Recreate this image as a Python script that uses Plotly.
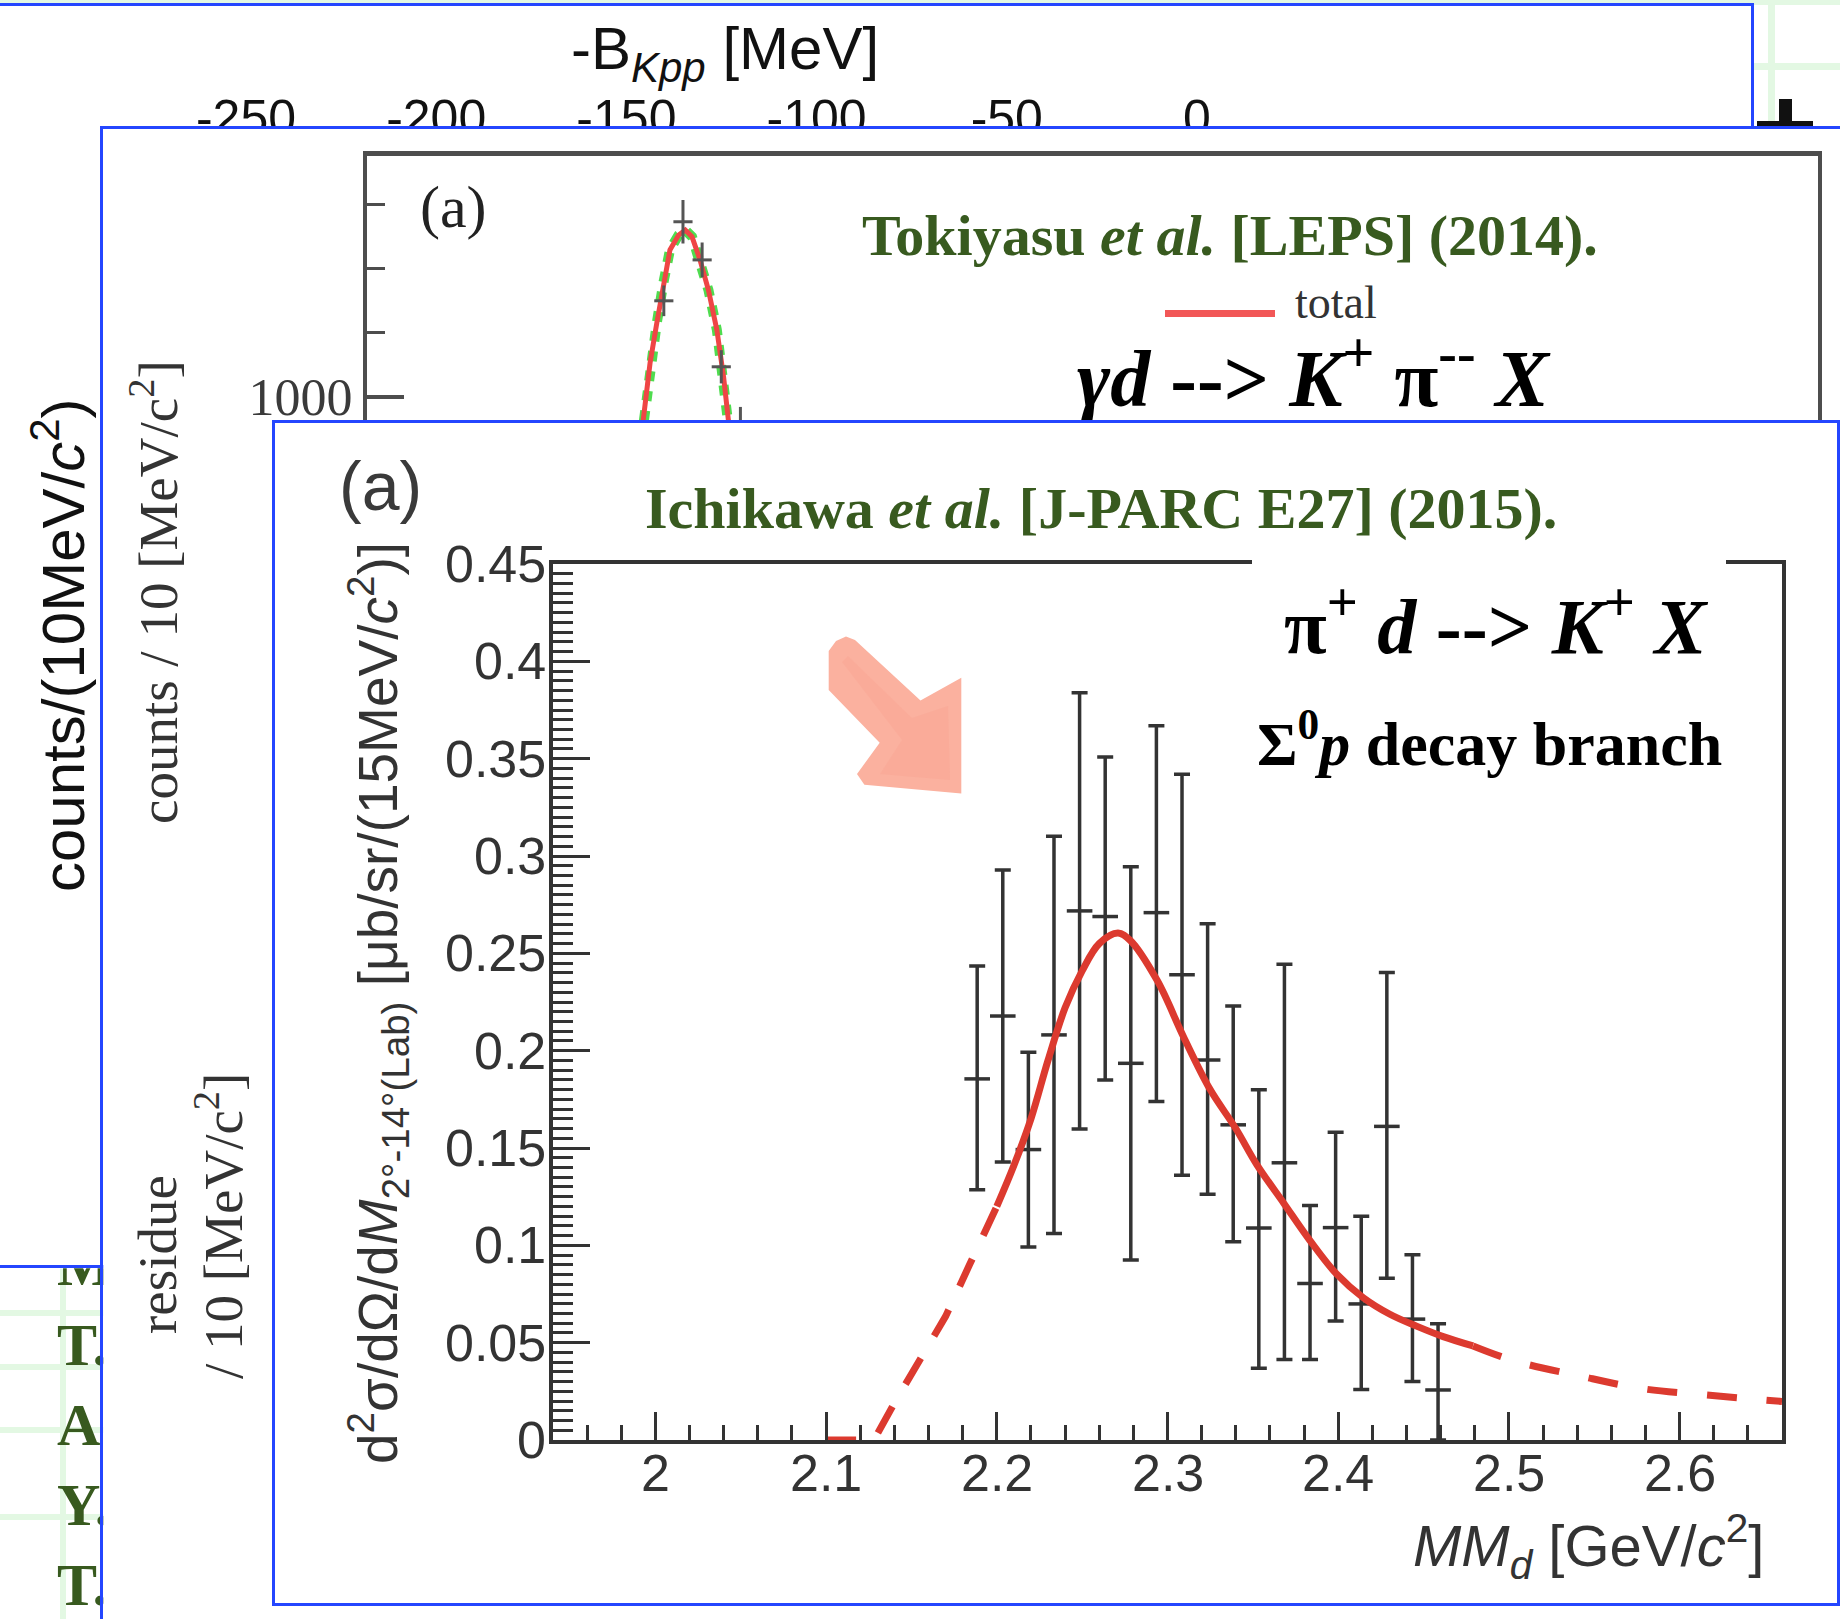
import plotly.graph_objects as go

W, H = 1840, 1619
BLUE = "#2446ff"
GREEN = "#385a1f"
INK = "#333333"
RED = "#dc3a2f"
GRIDGREEN = "#e3f8e3"

# ---------------- front chart: Ichikawa et al. [J-PARC E27] ----------------
mm_centers = [2.1885, 2.2035, 2.2185, 2.2335, 2.2485, 2.2635, 2.2785, 2.2935, 2.3085,
              2.3235, 2.3385, 2.3535, 2.3685, 2.3835, 2.3985, 2.4135, 2.4285, 2.4435, 2.4585]
xsec = [0.1855, 0.2178, 0.1492, 0.2081, 0.2718, 0.2689, 0.1935, 0.2709, 0.2390,
        0.1952, 0.1619, 0.1089, 0.1424, 0.0804, 0.1091, 0.0699, 0.1611, 0.0621, 0.0257]
xsec_err_up = [0.058, 0.075, 0.050, 0.102, 0.112, 0.082, 0.101, 0.096, 0.103,
               0.070, 0.061, 0.071, 0.102, 0.040, 0.049, 0.045, 0.079, 0.033, 0.034]
xsec_err_dn = [0.057, 0.075, 0.050, 0.102, 0.112, 0.084, 0.101, 0.097, 0.103,
               0.069, 0.060, 0.072, 0.101, 0.039, 0.048, 0.044, 0.078, 0.032, 0.0257]
mm_bin_half = 0.0075

fit_low_x = [2.100, 2.128, 2.140, 2.152, 2.170, 2.184, 2.200]
fit_low_y = [0.0, 0.0, 0.019, 0.037, 0.0635, 0.090, 0.120]
fit_mid_x = [2.200, 2.210, 2.220, 2.230, 2.240, 2.250, 2.260, 2.271, 2.278, 2.294, 2.3095,
             2.325, 2.340, 2.3525, 2.368, 2.3836, 2.399, 2.4147, 2.4303, 2.4459, 2.4615, 2.479]
fit_mid_y = [0.120, 0.141, 0.165, 0.195, 0.222, 0.241, 0.255, 0.2604, 0.2568, 0.236, 0.2069,
             0.180, 0.160, 0.1412, 0.1218, 0.1023, 0.0853, 0.0731, 0.0646, 0.0585, 0.0531, 0.0483]
fit_high_x = [2.479, 2.503, 2.541, 2.578, 2.616, 2.660]
fit_high_y = [0.0483, 0.0407, 0.0330, 0.0264, 0.0231, 0.0198]

mm_tick_vals = [2.0, 2.1, 2.2, 2.3, 2.4, 2.5, 2.6]
mm_tick_text = ["2", "2.1", "2.2", "2.3", "2.4", "2.5", "2.6"]
xsec_tick_vals = [0, 0.05, 0.1, 0.15, 0.2, 0.25, 0.3, 0.35, 0.4, 0.45]
xsec_tick_text = ["0", "0.05", "0.1", "0.15", "0.2", "0.25", "0.3", "0.35", "0.4", "0.45"]

# ---------------- middle chart: Tokiyasu et al. [LEPS] ----------------
leps_mm = [2.155, 2.165, 2.175, 2.185, 2.195]
leps_counts = [1375, 1684, 1535, 1117, 870]
leps_err = [60, 85, 68, 65, 90]
leps_fit_x = [2.1405, 2.1443, 2.1478, 2.1513, 2.1547, 2.1582, 2.1627, 2.1662,
              2.1697, 2.1739, 2.1783, 2.1827, 2.1862, 2.1888, 2.1922]
leps_fit_y = [674, 909, 1131, 1287, 1443, 1574, 1632, 1652,
              1626, 1535, 1417, 1261, 1078, 909, 674]
leps_tick_vals = [1000]
leps_tick_text = ["1000"]

# ---------------- back chart: binding-energy axis ----------------
bkpp_ticks = [-250, -200, -150, -100, -50, 0]
bkpp_labels = ["-250", "-200", "-150", "-100", "-50", "0"]

# ---------------- slide table initials (bottom-left) ----------------
ref_initials = ["M", "T.", "A", "Y.", "T."]
ref_rows_px = [1270, 1350, 1430, 1510, 1590]


# ---------------- geometry helpers (page pixels -> paper) ----------------
def dx(a, b):
    return [a / W, b / W]


def dy(top, bottom):
    return [1 - bottom / H, 1 - top / H]


def hidden(domain, rng, **kw):
    d = dict(domain=domain, range=rng, showgrid=False, zeroline=False, automargin=False,
             showticklabels=False, ticks="", fixedrange=True, showline=False)
    d.update(kw)
    return d


# back panel x axis: MeV, -250 at px 246 ... 0 at px 1197
BK_ZERO_PX, BK_PX_PER_MEV = 1197.0, 3.804
bk_range = [(0 - BK_ZERO_PX) / BK_PX_PER_MEV, (1751 - BK_ZERO_PX) / BK_PX_PER_MEV]

# LEPS axes mapping
LEPS_X0_PX, LEPS_PX_PER_GEV = 367.0, 1915.0
LEPS_Y1000_PX, LEPS_PX_PER_COUNT = 396.7, 0.2557


def leps_x(px):
    return 2.0 + (px - LEPS_X0_PX) / LEPS_PX_PER_GEV


def leps_y(py):
    return 1000 + (LEPS_Y1000_PX - py) / LEPS_PX_PER_COUNT


fig = go.Figure()

# ---- subplot 1 : back panel ----
fig.add_trace(go.Scatter(
    x=bkpp_ticks, y=[122] * len(bkpp_ticks), text=bkpp_labels, mode="text",
    textposition="middle center", cliponaxis=True,
    textfont=dict(family="Liberation Sans", size=50, color="#111111"),
    xaxis="x", yaxis="y", showlegend=False, hoverinfo="skip"))

# ---- subplot 2 : bottom-left slide table ----
fig.add_trace(go.Scatter(
    x=[57] * len(ref_initials), y=ref_rows_px, text=["<b>%s</b>" % t for t in ref_initials],
    mode="text", textposition="middle right", cliponaxis=True,
    textfont=dict(family="Liberation Serif", size=60, color=GREEN),
    xaxis="x2", yaxis="y2", showlegend=False, hoverinfo="skip"))

# ---- subplot 3 : middle panel (frame only) ----
fig.add_trace(go.Scatter(x=[], y=[], xaxis="x3", yaxis="y3", showlegend=False))

# ---- subplot 4 : LEPS spectrum ----
fig.add_trace(go.Scatter(
    x=leps_fit_x, y=leps_fit_y, mode="lines",
    line=dict(color="#4fdc4f", width=10, dash="dot"),
    xaxis="x4", yaxis="y4", showlegend=False, hoverinfo="skip"))
fig.add_trace(go.Scatter(
    x=leps_fit_x, y=leps_fit_y, mode="lines",
    line=dict(color="#ef4545", width=5),
    xaxis="x4", yaxis="y4", showlegend=False, hoverinfo="skip"))
fig.add_trace(go.Scatter(
    x=leps_mm, y=leps_counts, mode="markers", marker=dict(size=1, color="#555555"),
    error_y=dict(type="data", array=leps_err, color="#555555", thickness=3, width=0),
    error_x=dict(type="constant", value=0.005, color="#555555", thickness=3, width=0),
    xaxis="x4", yaxis="y4", showlegend=False, hoverinfo="skip"))
fig.add_trace(go.Scatter(
    x=[leps_x(1313)], y=[leps_y(386)], mode="text", textposition="middle center",
    text=["<b><i>γd</i> --> <i>K</i><sup>+</sup> π<sup>--</sup> <i>X</i></b>"],
    textfont=dict(family="Liberation Serif", size=80, color="#000000"), cliponaxis=True,
    xaxis="x4", yaxis="y4", showlegend=False, hoverinfo="skip"))

# ---- subplot 5 : front panel frame ----
fig.add_trace(go.Scatter(x=[], y=[], xaxis="x5", yaxis="y5", showlegend=False))

# ---- subplot 6 : main chart ----
fig.add_trace(go.Scatter(
    x=mm_centers, y=xsec, mode="markers", marker=dict(size=1, color=INK),
    error_y=dict(type="data", symmetric=False, array=xsec_err_up, arrayminus=xsec_err_dn,
                 color=INK, thickness=3.5, width=8),
    error_x=dict(type="constant", value=mm_bin_half, color=INK, thickness=3.5, width=0),
    xaxis="x6", yaxis="y6", showlegend=False, hoverinfo="skip"))
for fx, fy, dash, shape in [(fit_low_x, fit_low_y, "30px,26px", "linear"),
                            (fit_mid_x, fit_mid_y, "solid", "spline"),
                            (fit_high_x, fit_high_y, "30px,30px", "spline")]:
    fig.add_trace(go.Scatter(
        x=fx, y=fy, mode="lines", line=dict(color=RED, width=7, dash=dash, shape=shape),
        xaxis="x6", yaxis="y6", showlegend=False, hoverinfo="skip"))

fig.update_layout(
    template="none",
    width=W, height=H, margin=dict(l=0, r=0, t=0, b=0, pad=0, autoexpand=False),
    paper_bgcolor="white", plot_bgcolor="white", hovermode=False,
    font=dict(family="Liberation Sans", color=INK),
    xaxis=hidden(dx(0, 1751), bk_range, anchor="y", side="top",
                 showline=True, linecolor=BLUE, linewidth=3),
    yaxis=hidden(dy(6, 1619), [1619, 6], anchor="x", side="right",
                 showline=True, linecolor=BLUE, linewidth=3),
    xaxis2=hidden(dx(0, 260), [0, 260], anchor="y2", side="top",
                  showline=True, linecolor=BLUE, linewidth=3),
    yaxis2=hidden(dy(1268.3, 1619), [1619, 1268.3], anchor="x2"),
    xaxis3=hidden(dx(103.3, 1840), [103.3, 1840], anchor="y3", side="top",
                  showline=True, linecolor=BLUE, linewidth=3),
    yaxis3=hidden(dy(129, 1619), [1619, 129], anchor="x3", side="left",
                  showline=True, linecolor=BLUE, linewidth=3),
    xaxis4=hidden(dx(367, 1818), [leps_x(367), leps_x(1818)], anchor="y4", side="top",
                  showline=True, linecolor="#4d4d4d", linewidth=5),
    yaxis4=dict(domain=dy(155.5, 423), range=[leps_y(423), leps_y(155.5)], anchor="x4",
                showline=True, mirror=True, linecolor="#4d4d4d", linewidth=4,
                showgrid=False, zeroline=False, fixedrange=True, automargin=False,
                ticks="inside", tickmode="array", tickvals=leps_tick_vals, ticktext=leps_tick_text,
                ticklen=37, tickwidth=4, tickcolor="#4d4d4d",
                tickfont=dict(family="Liberation Serif", size=52, color="#3a3a3a"),
                minor=dict(ticks="inside", tick0=0, dtick=250, ticklen=18, tickwidth=3,
                           tickcolor="#4d4d4d", showgrid=False)),
    xaxis5=hidden(dx(275, 1837), [0, 1], anchor="y5", showline=True, mirror=True,
                  linecolor=BLUE, linewidth=3),
    yaxis5=hidden(dy(423, 1603), [0, 1], anchor="x5", showline=True, mirror=True,
                  linecolor=BLUE, linewidth=3),
    xaxis6=dict(domain=dx(553, 1782), range=[1.94, 2.66], anchor="y6",
                showline=True, mirror=True, linecolor=INK, linewidth=4,
                showgrid=False, zeroline=False, fixedrange=True, automargin=False,
                ticks="inside", tickmode="array", tickvals=mm_tick_vals,
                showticklabels=False, ticklen=28, tickwidth=3, tickcolor=INK,
                minor=dict(ticks="inside", tick0=2.0, dtick=0.02, ticklen=15, tickwidth=3,
                           tickcolor=INK, showgrid=False)),
    yaxis6=dict(domain=dy(564, 1440), range=[0, 0.45], anchor="x6",
                showline=True, mirror=True, linecolor=INK, linewidth=4,
                showgrid=False, zeroline=False, fixedrange=True, automargin=False,
                ticks="inside", tickmode="array", tickvals=xsec_tick_vals,
                showticklabels=False, ticklen=37, tickwidth=3, tickcolor=INK,
                minor=dict(ticks="inside", tick0=0, dtick=0.005, ticklen=20, tickwidth=3,
                           tickcolor=INK, showgrid=False)),
)


def ann(text, px, py, size, family="Liberation Sans", color=INK, angle=0,
        xanchor="center", yanchor="middle"):
    return dict(text=text, x=px / W, y=1 - py / H, xref="paper", yref="paper",
                showarrow=False, textangle=angle, xanchor=xanchor, yanchor=yanchor,
                font=dict(family=family, size=size, color=color))


tick_font = dict(family="Liberation Sans", size=52, color=INK)
annotations = []
# main-chart tick labels placed through the chart's own axes
for v, t in zip(mm_tick_vals, mm_tick_text):
    annotations.append(dict(text=t, x=v, xref="x6", y=1 - 1473 / H, yref="paper",
                            showarrow=False, xanchor="center", yanchor="middle", font=tick_font))
for v, t in zip(xsec_tick_vals, xsec_tick_text):
    annotations.append(dict(text=t, x=548 / W, xref="paper", y=v, yref="y6",
                            showarrow=False, xanchor="right", yanchor="middle", font=tick_font))

annotations += [
    # back panel
    ann("-B<sub><i>Kpp</i></sub> [MeV]", 724.5, 53, 60, color="#111111"),
    ann("counts/(10MeV/<i>c</i><sup>2</sup>)", 59, 645, 60, color="#111111", angle=-90),
    # middle panel
    ann("(a)", 453, 207, 60, family="Liberation Serif", color="#222222"),
    ann("<b>Tokiyasu <i>et al.</i> [LEPS] (2014).</b>", 1230, 235, 58,
        family="Liberation Serif", color=GREEN),
    ann("total", 1336, 302, 46, family="Liberation Serif", color="#333333"),
    ann("counts / 10 [MeV/c<sup>2</sup>]", 155, 592, 55, family="Liberation Serif",
        color="#333333", angle=-90),
    ann("residue", 157, 1255, 55, family="Liberation Serif", color="#333333", angle=-90),
    ann("/ 10 [MeV/c<sup>2</sup>]", 219, 1226, 55, family="Liberation Serif",
        color="#333333", angle=-90),
    # front panel
    ann("(a)", 380, 486, 68, color="#3a3a3a"),
    ann("<b>Ichikawa <i>et al.</i> [J-PARC E27] (2015).</b>", 1101, 508, 58,
        family="Liberation Serif", color=GREEN),
    ann("<b>π<sup>+</sup> <i>d</i> --> <i>K</i><sup>+</sup> <i>X</i></b>", 1496, 620, 78,
        family="Liberation Serif", color="#000000"),
    ann("<b>Σ<sup>0</sup><i>p</i> decay branch</b>", 1489, 739, 62,
        family="Liberation Serif", color="#000000"),
    ann("d<sup>2</sup>σ/dΩ/d<i>M</i><sub>2°-14°(Lab)</sub> [μb/sr/(15MeV/<i>c</i><sup>2</sup>)]",
        378, 1003, 55, color="#333333", angle=-90),
    ann("<i>MM</i><sub><i>d</i></sub> [GeV/<i>c</i><sup>2</sup>]", 1766, 1546, 58,
        color="#333333", xanchor="right"),
]


def P(px, py):
    return "%.5f,%.5f" % (px / W, 1 - py / H)


def rect(x0, y0, x1, y1, color, layer="below"):
    return dict(type="rect", xref="paper", yref="paper", x0=x0 / W, x1=x1 / W,
                y0=1 - y1 / H, y1=1 - y0 / H, fillcolor=color, line=dict(width=0), layer=layer)


arrow_pts = [(828.7, 651), (836, 641), (846, 636.5), (855, 640), (920.5, 700.6),
             (961.3, 677.8), (961.3, 793.5), (864.4, 784.8), (857, 774), (879.7, 742.7),
             (828.7, 690)]
arrow_path = "M " + " L ".join(P(a, b) for a, b in arrow_pts) + " Z"
inner_pts = [(842, 662), (848, 656), (912, 718), (948, 706), (950, 780), (880, 774), (902, 740)]
inner_path = "M " + " L ".join(P(a, b) for a, b in inner_pts) + " Z"

shapes = [
    # slide background grid (visible parts only)
    rect(0, 0, 1840, 5, GRIDGREEN),
    rect(1768, 0, 1775, 129, GRIDGREEN),
    rect(1751, 63, 1840, 70, GRIDGREEN),
    # black plus glyph at top right (lower part hidden by middle panel)
    rect(1779, 99, 1792, 150, "#111111"),
    rect(1757, 121, 1813, 134, "#111111"),
    # white cover box behind reaction label
    rect(1252, 560, 1726, 780, "white", layer="above"),
    # salmon arrow
    dict(type="path", xref="paper", yref="paper", path=arrow_path,
         fillcolor="#fbb19f", line=dict(width=0), layer="above"),
    dict(type="path", xref="paper", yref="paper", path=inner_path,
         fillcolor="#f9a593", line=dict(width=0), layer="above", opacity=0.5),
    # LEPS legend line
    dict(type="line", xref="paper", yref="paper", x0=1165 / W, x1=1275 / W,
         y0=1 - 313.5 / H, y1=1 - 313.5 / H, line=dict(color="#f25757", width=7), layer="above"),
]
# green table lines in the bottom-left slide panel (clipped to that panel)
for yy in [1313, 1367, 1430, 1517]:
    shapes.append(dict(type="line", xref="x2", yref="y2", x0=0, x1=260, y0=yy, y1=yy,
                       line=dict(color=GRIDGREEN, width=6), layer="below"))
shapes.append(dict(type="line", xref="x2", yref="y2", x0=63, x1=63, y0=1268.3, y1=1619,
                   line=dict(color=GRIDGREEN, width=6), layer="below"))

fig.update_layout(annotations=annotations, shapes=shapes)
fig.write_html("out.html", config={"displayModeBar": False})
